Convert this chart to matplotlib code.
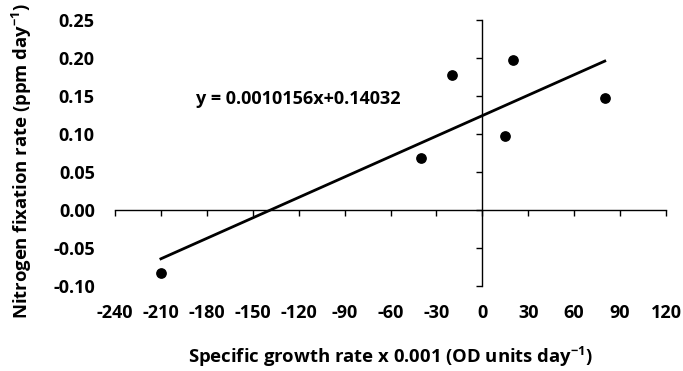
import numpy as np
import matplotlib
matplotlib.use("Agg")
import matplotlib.pyplot as plt

# data
growth = [-210, -40, -20, 15, 20, 80]
fixation = [-0.083, 0.068, 0.178, 0.097, 0.198, 0.148]
xticks = list(range(-240, 121, 30))
yticks = [-0.10, -0.05, 0.00, 0.05, 0.10, 0.15, 0.20, 0.25]
eq_text = "y = 0.0010156x+0.14032"

plt.rcParams['font.family'] = ['Open Sans', 'DejaVu Sans']
plt.rcParams['font.weight'] = 'bold'
plt.rcParams['axes.unicode_minus'] = False
plt.rcParams['mathtext.fontset'] = 'custom'
plt.rcParams['mathtext.rm'] = 'Open Sans:bold'
plt.rcParams['mathtext.default'] = 'rm'

W, H = 683, 371
fig = plt.figure(figsize=(W / 100, H / 100), dpi=100)
left, right, top, bottom = 115, 666, 20, 286
ax = fig.add_axes([left / W, 1 - bottom / H, (right - left) / W, (bottom - top) / H])

ax.scatter(growth, fixation, s=45, color='black', zorder=3)

# trend line fitted to the points
slope, icept = np.polyfit(growth, fixation, 1)
xs = np.array([min(growth), max(growth)])
ax.plot(xs, slope * xs + icept, color='black', lw=2)

ax.text(-187, 0.146, eq_text, fontsize=13, fontweight='bold', va='center', ha='left')

ax.set_xlim(-240, 120)
ax.set_ylim(-0.10, 0.25)
ax.set_xticks(xticks)
ax.set_yticks(yticks)
ax.set_yticklabels([f"{v:.2f}" for v in yticks])

for s in ['top', 'right']:
    ax.spines[s].set_visible(False)
ax.spines['left'].set_position(('data', 0))
ax.spines['bottom'].set_position(('data', 0))
ax.spines['left'].set_linewidth(1.0)
ax.spines['bottom'].set_linewidth(1.0)

# push tick labels out to the figure edges, as in the reference
px_per_x = (right - left) / 360
zero_x = left + 240 * px_per_x
px_per_y = (bottom - top) / 0.35
zero_y = top + 0.25 * px_per_y
ax.tick_params(axis='y', direction='out', length=4.5, width=1,
               pad=(zero_x - 96 - 5) * 0.72, labelsize=13)
ax.tick_params(axis='x', direction='out', length=4.5, width=1,
               pad=(303 - zero_y - 5) * 0.72, labelsize=13)

ax.set_xlabel("Specific growth rate x 0.001 (OD units day$^{-1}$)", fontsize=13.3, fontweight='bold')
ax.set_ylabel("Nitrogen fixation rate (ppm day$^{-1}$)", fontsize=13.3, fontweight='bold',
              va='center')
ax.xaxis.set_label_coords(0.5, (H - 345 - (H - bottom)) / (bottom - top))
ax.yaxis.set_label_coords((22 - left) / (right - left), (H - 161 - (H - bottom)) / (bottom - top))

fig.savefig("out.png", dpi=100)
